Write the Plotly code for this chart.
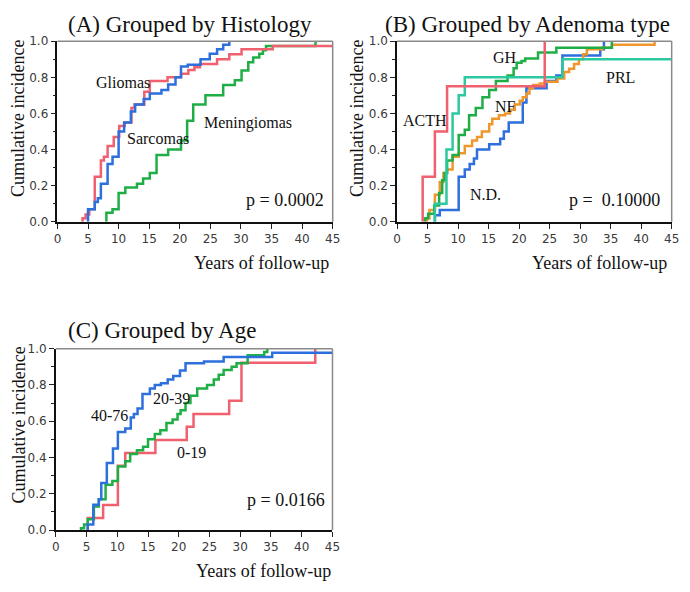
import plotly.graph_objects as go

W, H = 690, 592

# ---- data: event times (years) and cumulative incidence after each step ----
# (A) histology
gliomas_t = [4.1, 4.6, 5.2, 6.1, 7.1, 7.6, 8.2, 9.2, 10.1, 11.0, 12.1, 12.6, 14.2, 15.1,
             18.0, 20.2, 21.4, 22.4, 23.3, 26.1, 28.1, 30.1, 35.2, 45.0]
gliomas_y = [0.02, 0.04, 0.07, 0.25, 0.34, 0.36, 0.42, 0.47, 0.53, 0.55, 0.63, 0.65, 0.72, 0.78,
             0.80, 0.82, 0.84, 0.855, 0.874, 0.90, 0.928, 0.955, 0.973, 0.973]
sarcomas_t = [5.0, 6.1, 6.6, 7.1, 8.2, 9.0, 10.0, 10.9, 12.0, 12.7, 14.1, 15.1, 17.0, 18.1,
              19.3, 20.2, 21.3, 23.4, 24.9, 26.1, 27.1, 28.1]
sarcomas_y = [0.07, 0.11, 0.13, 0.21, 0.32, 0.36, 0.50, 0.55, 0.61, 0.65, 0.68, 0.71, 0.73, 0.76,
              0.80, 0.86, 0.87, 0.90, 0.93, 0.955, 0.98, 1.0]
mening_t = [8.0, 9.0, 10.0, 11.1, 13.0, 14.0, 15.1, 16.2, 18.1, 20.2, 21.2, 22.2, 24.2, 27.1,
            29.0, 30.1, 31.2, 32.0, 33.0, 33.6, 34.1, 42.2]
mening_y = [0.05, 0.07, 0.16, 0.19, 0.21, 0.24, 0.27, 0.37, 0.40, 0.45, 0.56, 0.65, 0.70, 0.757,
            0.784, 0.838, 0.883, 0.91, 0.93, 0.95, 0.973, 1.0]

# (B) adenoma type
acth_t = [4.2, 6.2, 8.2, 24.2]
acth_y = [0.25, 0.50, 0.75, 1.0]
prl_t = [6.2, 8.1, 9.1, 10.1, 11.1, 27.1, 45.0]
prl_y = [0.10, 0.40, 0.60, 0.70, 0.80, 0.90, 0.90]
gh_t = [4.6, 5.1, 6.1, 6.9, 7.4, 7.8, 8.2, 9.1, 10.1, 11.1, 11.8, 12.9, 14.0, 15.1, 16.2,
        18.1, 19.1, 19.6, 20.4, 21.0, 23.1, 26.1, 35.2]
gh_y = [0.02, 0.045, 0.09, 0.16, 0.23, 0.27, 0.34, 0.37, 0.48, 0.51, 0.59, 0.63, 0.69, 0.73, 0.78,
        0.81, 0.85, 0.88, 0.89, 0.904, 0.937, 0.964, 1.0]
nf_t = [4.9, 5.3, 6.2, 7.0, 7.6, 8.2, 9.1, 10.1, 11.1, 12.3, 13.1, 13.9, 15.1, 15.6, 16.7,
        17.7, 18.5, 19.3, 20.1, 20.6, 21.2, 21.7, 22.3, 23.4, 24.2, 26.3, 27.4, 28.2, 29.0,
        29.8, 30.5, 31.1, 33.6, 35.2, 42.2]
nf_y = [0.02, 0.065, 0.15, 0.22, 0.27, 0.29, 0.36, 0.38, 0.42, 0.45, 0.47, 0.50, 0.54, 0.57, 0.59,
        0.60, 0.62, 0.65, 0.67, 0.69, 0.71, 0.74, 0.757, 0.766, 0.775, 0.793, 0.829, 0.847, 0.874,
        0.90, 0.928, 0.955, 0.964, 0.98, 1.0]
nd_t = [6.2, 7.0, 10.1, 11.1, 11.9, 12.6, 13.1, 15.1, 16.9, 17.5, 18.3, 20.6, 21.2, 24.5,
        26.1, 27.1, 33.3, 33.9]
nd_y = [0.036, 0.065, 0.25, 0.29, 0.32, 0.35, 0.40, 0.43, 0.46, 0.50, 0.55, 0.66, 0.74, 0.78,
        0.81, 0.92, 0.955, 1.0]

# (C) age
age40_t = [5.2, 6.1, 7.0, 7.4, 8.3, 9.3, 10.1, 11.3, 12.2, 12.7, 13.3, 14.1, 15.3, 16.1, 17.1,
           18.2, 19.1, 20.2, 21.1, 24.1, 27.3, 35.2, 45.0]
age40_y = [0.03, 0.14, 0.17, 0.26, 0.37, 0.45, 0.54, 0.56, 0.62, 0.64, 0.67, 0.75, 0.78, 0.80, 0.81,
           0.83, 0.85, 0.88, 0.92, 0.93, 0.955, 0.978, 0.978]
age20_t = [4.1, 4.6, 5.2, 6.2, 7.0, 8.1, 9.2, 10.1, 11.3, 12.1, 13.2, 14.2, 15.0, 16.1, 17.0,
           18.0, 19.0, 19.8, 20.3, 21.1, 21.9, 23.0, 24.6, 25.7, 26.5, 27.3, 28.6, 29.4, 31.2,
           33.9, 34.4]
age20_y = [0.01, 0.03, 0.06, 0.13, 0.17, 0.25, 0.27, 0.35, 0.38, 0.42, 0.44, 0.46, 0.50, 0.53, 0.55,
           0.59, 0.61, 0.64, 0.66, 0.70, 0.74, 0.78, 0.80, 0.83, 0.856, 0.883, 0.90, 0.92, 0.964,
           0.982, 1.0]
age0_t = [5.2, 7.7, 10.1, 11.3, 16.2, 21.3, 22.4, 28.2, 30.2, 42.2]
age0_y = [0.067, 0.138, 0.354, 0.425, 0.497, 0.569, 0.64, 0.713, 0.923, 1.0]

RED, BLUE, GREEN = "#f0606e", "#2d6fdc", "#1fae45"
TEAL, ORANGE = "#2cc8a0", "#f0962e"

panels = [
    dict(box=(54.4, 35, 334.5, 220),
         series=[(mening_t, mening_y, GREEN), (gliomas_t, gliomas_y, RED), (sarcomas_t, sarcomas_y, BLUE)]),
    dict(box=(400, 35, 679.5, 220),
         series=[(nd_t, nd_y, BLUE), (nf_t, nf_y, ORANGE), (gh_t, gh_y, GREEN),
                 (prl_t, prl_y, TEAL), (acth_t, acth_y, RED)]),
    dict(box=(52.7, 350, 334.3, 535.7),
         series=[(age0_t, age0_y, RED), (age20_t, age20_y, GREEN), (age40_t, age40_y, BLUE)]),
]


def px(x):
    return x / W


def py(y):
    return 1 - y / H


fig = go.Figure()
shapes = []
for i, p in enumerate(panels):
    n = "" if i == 0 else str(i + 1)
    x0, y0, x1, y1 = p["box"]
    for t, y, c in p["series"]:
        fig.add_trace(go.Scatter(x=[t[0]] + t, y=[0] + y, mode="lines", line_shape="hv",
                                 line=dict(color=c, width=2.5), xaxis="x" + n, yaxis="y" + n,
                                 showlegend=False, hoverinfo="skip"))
    fig.layout["xaxis" + n] = dict(domain=[px(x0), px(x1)], anchor="y" + n, range=[0, 45],
                                   tickvals=list(range(0, 50, 5)), ticks="outside", ticklen=5,
                                   tickcolor="#222", showline=True, linecolor="#111", linewidth=1.5,
                                   showgrid=False, zeroline=False,
                                   tickfont=dict(family="DejaVu Sans", size=12, color="#3a3a3a"))
    fig.layout["yaxis" + n] = dict(domain=[py(y1), py(y0)], anchor="x" + n, range=[0, 1],
                                   tickvals=[0, 0.2, 0.4, 0.6, 0.8, 1.0], tickformat=".1f",
                                   ticks="outside", ticklen=5, tickcolor="#222",
                                   minor=dict(ticks="outside", ticklen=3, dtick=0.1, tickcolor="#222"),
                                   showline=True, linecolor="#111", linewidth=1.5,
                                   showgrid=False, zeroline=False,
                                   tickfont=dict(family="DejaVu Sans", size=12, color="#3a3a3a"))
    # grey top and right frame
    shapes.append(dict(type="line", xref="paper", yref="paper", x0=px(x0), x1=px(x1),
                       y0=py(y0), y1=py(y0), line=dict(color="#8a8a8a", width=1.5)))
    shapes.append(dict(type="line", xref="paper", yref="paper", x0=px(x1), x1=px(x1),
                       y0=py(y0), y1=py(y1), line=dict(color="#8a8a8a", width=1.5)))

SERIF = "Liberation Serif"


def txt(x, y, s, size, xanchor="left", angle=0):
    return dict(x=px(x), y=py(y), xref="paper", yref="paper", text=s, showarrow=False,
                xanchor=xanchor, yanchor="middle", textangle=angle,
                font=dict(family=SERIF, size=size, color="#111"))


annotations = [
    txt(63, 18, "(A) Grouped by Histology", 23),
    txt(386, 18, "(B) Grouped by Adenoma type", 23),
    txt(63, 331, "(C) Grouped by Age", 23),
    txt(15, 114, "Cumulative incidence", 18, "center", -90),
    txt(360, 114, "Cumulative incidence", 18, "center", -90),
    txt(15, 428, "Cumulative incidence", 18, "center", -90),
    txt(333, 262, "Years of follow-up", 18, "right"),
    txt(677, 262, "Years of follow-up", 18, "right"),
    txt(335, 578, "Years of follow-up", 18, "right"),
    txt(92, 77, "Gliomas", 16),
    txt(123, 135, "Sarcomas", 16),
    txt(202, 119, "Meningiomas", 16),
    txt(244, 198, "p = 0.0002", 18),
    txt(496, 52, "GH", 16),
    txt(404, 116, "ACTH", 16),
    txt(498, 102, "NF", 16),
    txt(611, 72, "PRL", 16),
    txt(472, 192, "N.D.", 16),
    txt(573, 198, "p =  0.10000", 18),
    txt(86, 418, "40-76", 16),
    txt(150, 401, "20-39", 16),
    txt(174, 456, "0-19", 16),
    txt(245, 505, "p = 0.0166", 18),
]

fig.update_layout(width=W, height=H, autosize=False, margin=dict(l=0, r=0, t=0, b=0),
                  paper_bgcolor="white", plot_bgcolor="white", shapes=shapes,
                  annotations=annotations)

# drop the default page margin so the 690x592 figure fills the window exactly
fig.write_html("out.html", post_script="document.body.style.margin='0';",
               config={"displayModeBar": False})
